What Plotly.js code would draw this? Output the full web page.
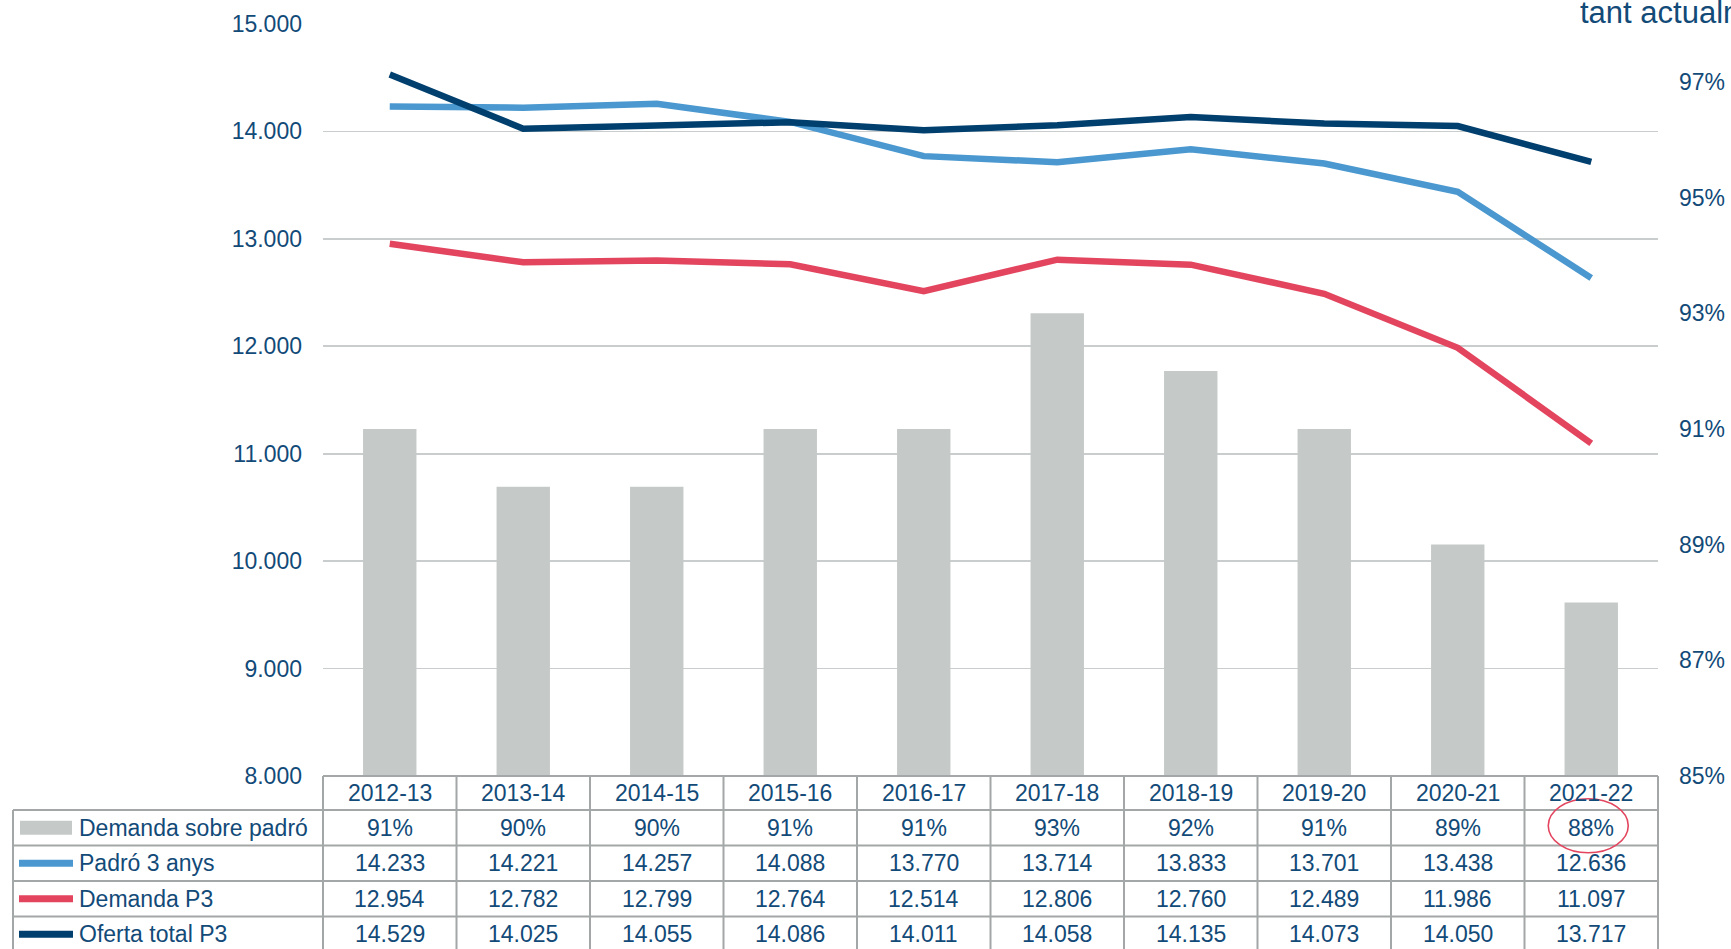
<!DOCTYPE html>
<html>
<head>
<meta charset="utf-8">
<script src="https://cdn.plot.ly/plotly-3.0.1.min.js"></script>
<style>
  html, body { margin: 0; padding: 0; background: #ffffff; }
  #chart { width: 1731px; height: 949px; }
</style>
</head>
<body>
<div id="chart"></div>
<script>
// ---------- DATA ----------
const categories = ["2012-13","2013-14","2014-15","2015-16","2016-17","2017-18","2018-19","2019-20","2020-21","2021-22"];
const demandaSobrePadro = [0.91, 0.90, 0.90, 0.91, 0.91, 0.93, 0.92, 0.91, 0.89, 0.88];
const padro3Anys = [14233, 14221, 14257, 14088, 13770, 13714, 13833, 13701, 13438, 12636];
const demandaP3 = [12954, 12782, 12799, 12764, 12514, 12806, 12760, 12489, 11986, 11097];
const ofertaTotalP3 = [14529, 14025, 14055, 14086, 14011, 14058, 14135, 14073, 14050, 13717];
const seriesNames = ["Demanda sobre padró", "Padró 3 anys", "Demanda P3", "Oferta total P3"];
const leftTickVals = [8000, 9000, 10000, 11000, 12000, 13000, 14000, 15000];
const leftTickText = ["8.000", "9.000", "10.000", "11.000", "12.000", "13.000", "14.000", "15.000"];
const rightTickVals = [0.85, 0.87, 0.89, 0.91, 0.93, 0.95, 0.97];
const rightTickText = ["85%", "87%", "89%", "91%", "93%", "95%", "97%"];
const titleFragment = "tant actualment";

// ---------- STYLE ----------
const W = 1731, H = 949;
const M = { l: 323, r: 73, t: 24, b: 173 };
const plotW = W - M.l - M.r, plotH = H - M.t - M.b;
const textColor = "#124a78";
const gridColor = "#c9cdcd";
const tableColor = "#a3a7a7";
const colors = { bar: "#c5cac9", padro: "#4a98cf", demanda: "#e3455f", oferta: "#003f6e" };
const FONT = "Liberation Sans, Arial, sans-serif";
const fs = 23;
const lineW = 6.5;

// pixel -> paper helpers (layout geometry only)
const py = p => (H - M.b - p) / plotH;
const px = p => (p - M.l) / plotW;

// number formatting (Catalan style, dot as thousands separator)
const fmtNum = v => String(v).replace(/\B(?=(\d{3})+(?!\d))/g, ".");
const fmtPct = v => Math.round(v * 100) + "%";

// ---------- TRACES ----------
const traces = [
  { type: "bar", x: categories, y: demandaSobrePadro, name: seriesNames[0],
    marker: { color: colors.bar }, width: 0.4, xaxis: "x", yaxis: "y", hoverinfo: "x+y" },
  { type: "scatter", mode: "lines", x: categories, y: padro3Anys, name: seriesNames[1],
    line: { color: colors.padro, width: lineW }, xaxis: "x", yaxis: "y2" },
  { type: "scatter", mode: "lines", x: categories, y: demandaP3, name: seriesNames[2],
    line: { color: colors.demanda, width: lineW }, xaxis: "x", yaxis: "y2" },
  { type: "scatter", mode: "lines", x: categories, y: ofertaTotalP3, name: seriesNames[3],
    line: { color: colors.oferta, width: lineW }, xaxis: "x", yaxis: "y2" }
];

// ---------- TABLE (shapes + annotations) ----------
const tableTop = 776, headerBottom = 810, rowH = 35.5;
const rowTops = [headerBottom, headerBottom + rowH, headerBottom + 2 * rowH, headerBottom + 3 * rowH];
const tableBottom = headerBottom + 4 * rowH;
const leftColX = 13;
const shapes = [];
const annotations = [];

const hline = (x0p, x1p, yp) => shapes.push({ type: "line", xref: "paper", yref: "paper",
  x0: px(x0p), x1: px(x1p), y0: py(yp), y1: py(yp), line: { color: tableColor, width: 2 } });
const vline = (xPaper, y0p, y1p) => shapes.push({ type: "line", xref: "paper", yref: "paper",
  x0: xPaper, x1: xPaper, y0: py(y0p), y1: py(y1p), line: { color: tableColor, width: 2 } });

hline(M.l, W - M.r, tableTop);
rowTops.forEach(t => hline(leftColX, W - M.r, t));
hline(leftColX, W - M.r, tableBottom);
for (let i = 0; i <= categories.length; i++) vline(i / categories.length, tableTop, tableBottom);
vline(px(leftColX), headerBottom, tableBottom);

const rowData = [
  demandaSobrePadro.map(fmtPct),
  padro3Anys.map(fmtNum),
  demandaP3.map(fmtNum),
  ofertaTotalP3.map(fmtNum)
];

// header
categories.forEach(c => annotations.push({ xref: "x", yref: "paper", x: c,
  y: py((tableTop + headerBottom) / 2), text: c, showarrow: false,
  xanchor: "center", yanchor: "middle", font: { family: FONT, size: fs, color: textColor } }));

// rows
rowData.forEach((row, r) => {
  const yc = py(rowTops[r] + rowH / 2);
  row.forEach((txt, i) => annotations.push({ xref: "x", yref: "paper", x: categories[i], y: yc,
    text: txt, showarrow: false, xanchor: "center", yanchor: "middle",
    font: { family: FONT, size: fs, color: textColor } }));
  annotations.push({ xref: "paper", yref: "paper", x: px(77), y: yc, text: seriesNames[r],
    showarrow: false, xanchor: "left", yanchor: "middle",
    font: { family: FONT, size: fs, color: textColor } });
});

// legend keys
shapes.push({ type: "rect", xref: "paper", yref: "paper", x0: px(20), x1: px(72),
  y0: py(rowTops[0] + rowH / 2 - 7), y1: py(rowTops[0] + rowH / 2 + 7),
  fillcolor: colors.bar, line: { width: 0 } });
[colors.padro, colors.demanda, colors.oferta].forEach((c, k) => {
  const yc = py(rowTops[k + 1] + rowH / 2);
  shapes.push({ type: "line", xref: "paper", yref: "paper", x0: px(19), x1: px(73), y0: yc, y1: yc,
    line: { color: c, width: 7 } });
});

// red circle on last percentage
const lastCx = M.l + plotW * (categories.length - 0.5) / categories.length - 3;
const lastCy = rowTops[0] + rowH / 2 - 2;
shapes.push({ type: "circle", xref: "paper", yref: "paper",
  x0: px(lastCx - 40), x1: px(lastCx + 40), y0: py(lastCy + 27), y1: py(lastCy - 27),
  line: { color: "#e3455f", width: 1.6 } });

// cut-off title fragment at top right (cut off in the reference too)
annotations.push({ xref: "paper", yref: "paper", x: px(1578), y: py(32), text: titleFragment,
  showarrow: false, xanchor: "left", yanchor: "bottom",
  font: { family: FONT, size: 31, color: textColor } });

// ---------- LAYOUT ----------
const layout = {
  width: W, height: H,
  margin: M,
  paper_bgcolor: "#ffffff", plot_bgcolor: "#ffffff",
  showlegend: false,
  font: { family: FONT, size: fs, color: textColor },
  xaxis: { type: "category", range: [-0.5, categories.length - 0.5], showticklabels: false,
    showgrid: false, zeroline: false, showline: false, ticks: "" },
  yaxis: { side: "right", range: [0.85, 0.98], tickvals: rightTickVals, ticktext: rightTickText,
    showgrid: false, zeroline: false, showline: false, ticks: "", ticklabelstandoff: 20,
    tickfont: { family: FONT, size: fs, color: textColor } },
  yaxis2: { overlaying: "y", side: "left", range: [8000, 15000], tickvals: leftTickVals,
    ticktext: leftTickText, showgrid: true, gridcolor: gridColor, gridwidth: 1.6,
    zeroline: false, showline: false, ticks: "", ticklabelstandoff: 20,
    tickfont: { family: FONT, size: fs, color: textColor } },
  bargap: 0.6,
  shapes: shapes,
  annotations: annotations
};

Plotly.newPlot("chart", traces, layout, { displayModeBar: false, staticPlot: true });
</script>
</body>
</html>
